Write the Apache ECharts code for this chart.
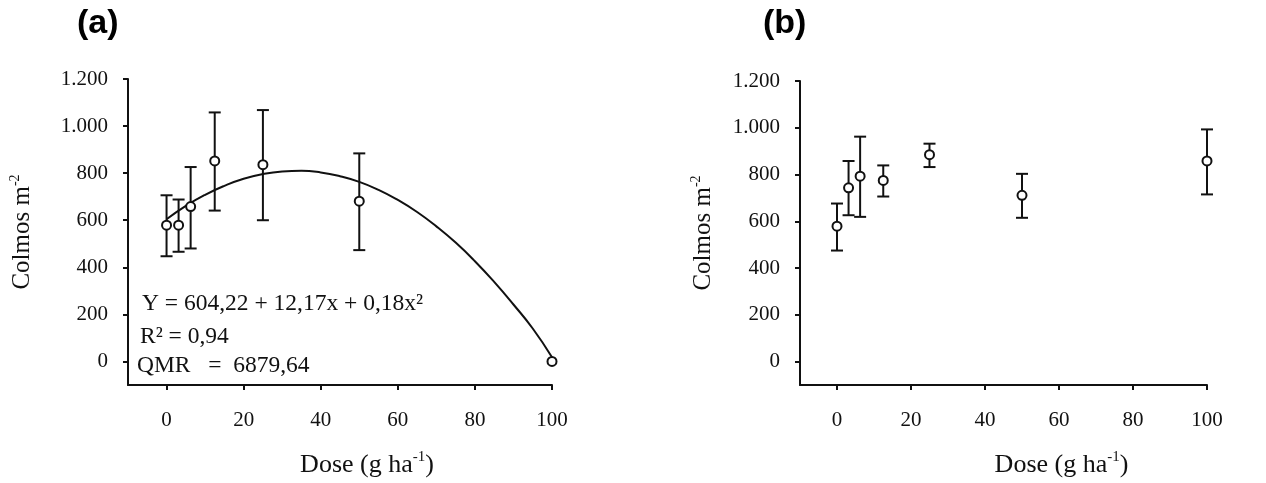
<!DOCTYPE html>
<html><head><meta charset="utf-8">
<script src="https://cdn.jsdelivr.net/npm/echarts@6/dist/echarts.min.js"></script>
<style>html,body{margin:0;padding:0;background:#fff}#c{width:1266px;height:483px}</style>
</head><body><div id="c"></div>
<script>
// ---- data ----
const doses = [0, 3.125, 6.25, 12.5, 25, 50, 100];
const meanA = [579, 579, 658, 852, 836, 681, 0];
const lowA  = [447, 466, 480, 641, 600, 473, null];
const highA = [706, 688, 826, 1058, 1068, 884, null];
const meanB = [579, 743, 793, 775, 885, 711, 858];
const lowB  = [475, 626, 619, 706, 832, 615, 715];
const highB = [676, 858, 962, 839, 932, 803, 993];
// fitted curve of panel (a)
const curveX = [0, 5, 10, 15, 20, 25, 30, 35, 40, 45, 50, 55, 60, 65, 70, 75, 80, 85, 90, 95, 100];
const curveA = [604, 661, 708, 746, 776, 796, 807, 810, 803, 787, 763, 729, 686, 635, 574, 505, 426, 338, 242, 140, 18];
const xTicks = [0, 20, 40, 60, 80, 100];
const xTickLabels = ['0', '20', '40', '60', '80', '100'];
const yTicks = [0, 200, 400, 600, 800, 1000, 1200];
const yTickLabels = ['0', '200', '400', '600', '800', '1.000', '1.200'];
const eqLines = ['Y = 604,22 + 12,17x + 0,18x²', 'R² = 0,94', 'QMR   =  6879,64'];
const panelLabels = ['(a)', '(b)'];

// ---- chart ----
const serif = 'Liberation Serif';
const chart = echarts.init(document.getElementById('c'));

function errRender(params, api) {
  const x = api.value(0), lo = api.value(1), hi = api.value(2);
  const pLo = api.coord([x, lo]), pHi = api.coord([x, hi]);
  const w = 6;
  const st = { stroke: '#111', lineWidth: 2 };
  return { type: 'group', children: [
    { type: 'line', shape: { x1: pHi[0], y1: pHi[1], x2: pLo[0], y2: pLo[1] }, style: st },
    { type: 'line', shape: { x1: pHi[0] - w, y1: pHi[1], x2: pHi[0] + w, y2: pHi[1] }, style: st },
    { type: 'line', shape: { x1: pLo[0] - w, y1: pLo[1], x2: pLo[0] + w, y2: pLo[1] }, style: st }
  ]};
}
function errData(lo, hi) {
  const out = [];
  doses.forEach((d, i) => { if (lo[i] != null) out.push([d, lo[i], hi[i]]); });
  return out;
}
function xAxisDef(gi, padLeft) {
  return {
    type: 'value', gridIndex: gi, min: -10, max: 100,
    axisLine: { onZero: false, lineStyle: { color: '#111', width: 2 } },
    axisTick: { customValues: xTicks, length: 5, lineStyle: { color: '#111', width: 2 } },
    axisLabel: { customValues: xTicks, formatter: v => xTickLabels[xTicks.indexOf(v)], color: '#111',
      fontFamily: serif, fontSize: 21, margin: 25 },
    splitLine: { show: false },
    name: '{a|Dose (g ha}{s|-1}{a|)}', nameLocation: 'middle', nameGap: 65,
    nameTextStyle: { padding: [0, 0, 0, padLeft], rich: {
      a: { fontFamily: serif, fontSize: 26, color: '#111', lineHeight: 30 },
      s: { fontFamily: serif, fontSize: 15, color: '#111', lineHeight: 15, verticalAlign: 'top' } } }
  };
}
function yAxisDef(gi, gap) {
  return {
    type: 'value', gridIndex: gi, min: -100, max: 1200,
    axisLine: { show: true, onZero: false, lineStyle: { color: '#111', width: 2 } },
    axisTick: { show: true, customValues: yTicks, length: 5, lineStyle: { color: '#111', width: 2 } },
    axisLabel: { customValues: yTicks, formatter: v => yTickLabels[yTicks.indexOf(v)], color: '#111',
      fontFamily: serif, fontSize: 21, margin: 20 },
    splitLine: { show: false },
    name: '{a|Colmos m}{s|-2}', nameLocation: 'middle', nameGap: gap,
    nameTextStyle: { rich: {
      a: { fontFamily: serif, fontSize: 25, color: '#111', lineHeight: 28 },
      s: { fontFamily: serif, fontSize: 14, color: '#111', lineHeight: 14, verticalAlign: 'top' } } }
  };
}
const markerStyle = { color: '#ffffff', borderColor: '#111', borderWidth: 2, opacity: 1 };

chart.setOption({
  animation: false,
  backgroundColor: '#fff',
  grid: [
    { left: 128, right: 714, top: 79, bottom: 98 },
    { left: 800, right: 59, top: 81, bottom: 98 }
  ],
  xAxis: [xAxisDef(0, 54), xAxisDef(1, 116)],
  yAxis: [yAxisDef(0, 92), yAxisDef(1, 83)],
  series: [
    { type: 'line', xAxisIndex: 0, yAxisIndex: 0, data: curveX.map((x, i) => [x, curveA[i]]),
      smooth: true, showSymbol: false, lineStyle: { color: '#111', width: 2 }, z: 2 },
    { type: 'custom', xAxisIndex: 0, yAxisIndex: 0, renderItem: errRender, data: errData(lowA, highA),
      encode: { x: 0, y: [1, 2] }, z: 3 },
    { type: 'scatter', xAxisIndex: 0, yAxisIndex: 0, data: doses.map((d, i) => [d, meanA[i]]),
      symbol: 'circle', symbolSize: 9, itemStyle: markerStyle, z: 5 },
    { type: 'custom', xAxisIndex: 1, yAxisIndex: 1, renderItem: errRender, data: errData(lowB, highB),
      encode: { x: 0, y: [1, 2] }, z: 3 },
    { type: 'scatter', xAxisIndex: 1, yAxisIndex: 1, data: doses.map((d, i) => [d, meanB[i]]),
      symbol: 'circle', symbolSize: 9, itemStyle: markerStyle, z: 5 }
  ],
  graphic: [
    { type: 'text', left: 77, top: 7, style: { text: panelLabels[0], font: 'bold 34px "Liberation Sans"', fill: '#000' } },
    { type: 'text', left: 763, top: 7, style: { text: panelLabels[1], font: 'bold 34px "Liberation Sans"', fill: '#000' } },
    { type: 'text', left: 142, top: 292, style: { text: eqLines[0], font: '23.5px "Liberation Serif"', fill: '#111' } },
    { type: 'text', left: 140, top: 325, style: { text: eqLines[1], font: '23.5px "Liberation Serif"', fill: '#111' } },
    { type: 'text', left: 137, top: 354, style: { text: eqLines[2], font: '23.5px "Liberation Serif"', fill: '#111' } }
  ]
});
</script></body></html>
